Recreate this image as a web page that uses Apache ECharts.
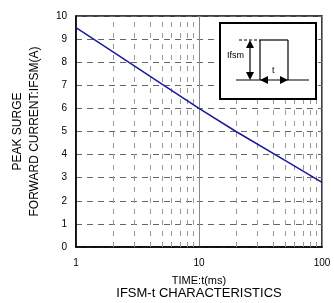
<!DOCTYPE html>
<html>
<head>
<meta charset="utf-8">
<script src="https://cdn.jsdelivr.net/npm/echarts@6/dist/echarts.min.js"></script>
<style>
  html, body { margin: 0; padding: 0; background: #fff; }
  #chart { width: 334px; height: 303px; }
</style>
</head>
<body>
<div id="chart"></div>
<script>
// IFSM-t curve
const timeMs = [1, 2, 5, 10, 20, 50, 100]
const ifsm = [9.5, 8.45, 7.05, 6.0, 5.0, 3.75, 2.8]
const minorTimes = [2, 3, 4, 5, 6, 7, 8, 9, 20, 30, 40, 50, 60, 70, 80, 90]
const yTicks = [0, 1, 2, 3, 4, 5, 6, 7, 8, 9, 10]

const font = 'Liberation Sans'
const chart = echarts.init(document.getElementById('chart'))

const options = {
  animation: false,
  grid: {
    left: 76, right: 12, top: 16, bottom: 56,
    show: true,
    borderColor: '#000',
    borderWidth: 1.5
  },
  xAxis: {
    type: 'log',
    logBase: 10,
    min: 1,
    max: 100,
    name: 'TIME:t(ms)',
    nameLocation: 'middle',
    nameGap: 28,
    nameTextStyle: { color: '#000', fontFamily: font, fontSize: 11 },
    axisLine: { lineStyle: { color: '#000', width: 1.5 } },
    axisTick: { show: false },
    axisLabel: { color: '#000', fontFamily: font, fontSize: 10, margin: 11 },
    splitLine: { show: true, lineStyle: { color: '#888', width: 1, type: 'solid' } }
  },
  yAxis: {
    type: 'value',
    min: 0,
    max: 10,
    interval: 1,
    name: 'PEAK SURGE\nFORWARD CURRENT:IFSM(A)',
    nameLocation: 'middle',
    nameGap: 33,
    nameTextStyle: { color: '#000', fontFamily: font, fontSize: 12, lineHeight: 17 },
    axisLine: { show: true, lineStyle: { color: '#000', width: 1.5 } },
    axisTick: { show: false },
    axisLabel: {
      color: '#000', fontFamily: font, fontSize: 10, margin: 9,
      formatter: v => (yTicks.indexOf(v) >= 0 ? String(v) : '')
    },
    splitLine: { show: true, lineStyle: { color: '#666', width: 1, type: [6, 5] } }
  },
  series: [
    {
      type: 'line',
      data: timeMs.map((t, i) => [t, ifsm[i]]),
      showSymbol: false,
      smooth: false,
      lineStyle: { color: '#1a1a9a', width: 1.5 },
      z: 5,
      markLine: {
        silent: true,
        symbol: 'none',
        label: { show: false },
        lineStyle: { color: '#999', width: 1, type: [5, 6] },
        z: 1,
        data: minorTimes.map(t => ({ xAxis: t }))
      }
    }
  ],
  graphic: [
    {
      type: 'text', x: 199, y: 287,
      style: { text: 'IFSM-t CHARACTERISTICS', fill: '#000', font: '13px ' + font, textAlign: 'center' }
    },
    // inset pulse diagram
    {
      type: 'group', z: 100,
      children: [
        { type: 'rect', z: 100, shape: { x: 220, y: 23, width: 96, height: 76 },
          style: { fill: '#fff', stroke: '#000', lineWidth: 2 } },
        { type: 'line', z: 101, shape: { x1: 236, y1: 80, x2: 309, y2: 80 }, style: { stroke: '#000', lineWidth: 1.2 } },
        { type: 'line', z: 101, shape: { x1: 260, y1: 80, x2: 260, y2: 40 }, style: { stroke: '#000', lineWidth: 1.2 } },
        { type: 'line', z: 101, shape: { x1: 260, y1: 40, x2: 288, y2: 40 }, style: { stroke: '#000', lineWidth: 1.2 } },
        { type: 'line', z: 101, shape: { x1: 288, y1: 40, x2: 288, y2: 80 }, style: { stroke: '#000', lineWidth: 1.2 } },
        { type: 'line', z: 101, shape: { x1: 239, y1: 40, x2: 260, y2: 40 }, style: { stroke: '#000', lineWidth: 1.2, lineDash: [3, 2] } },
        { type: 'line', z: 101, shape: { x1: 250, y1: 44, x2: 250, y2: 76 }, style: { stroke: '#000', lineWidth: 1.2 } },
        { type: 'polygon', z: 101, shape: { points: [[250, 40], [246, 48], [254, 48]] }, style: { fill: '#000' } },
        { type: 'polygon', z: 101, shape: { points: [[250, 80], [246, 72], [254, 72]] }, style: { fill: '#000' } },
        { type: 'polygon', z: 101, shape: { points: [[260, 80], [268, 76], [268, 84]] }, style: { fill: '#000' } },
        { type: 'polygon', z: 101, shape: { points: [[288, 80], [280, 76], [280, 84]] }, style: { fill: '#000' } },
        { type: 'text', z: 101, x: 227, y: 51, style: { text: 'Ifsm', fill: '#000', font: '9px ' + font } },
        { type: 'text', z: 101, x: 272, y: 66, style: { text: 't', fill: '#000', font: '9px ' + font } }
      ]
    }
  ]
}

chart.setOption(options)
</script>
</body>
</html>
